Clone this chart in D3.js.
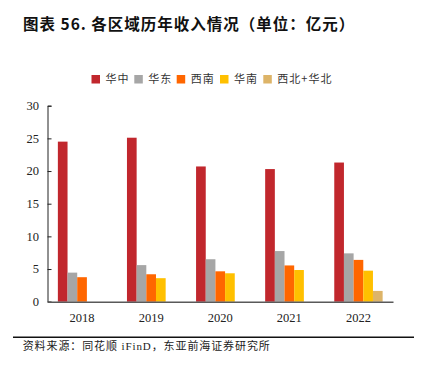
<!DOCTYPE html>
<html><head><meta charset="utf-8">
<script src="https://cdn.jsdelivr.net/npm/d3@7/dist/d3.min.js"></script>
<style>body{margin:0;background:#fff}svg{display:block}</style>
</head><body>
<script>
const years = ["2018","2019","2020","2021","2022"];
const seriesNames = ["华中","华东","西南","华南","西北+华北"];
const huazhong = [24.5, 25.1, 20.7, 20.3, 21.3];
const huadong  = [4.45, 5.6, 6.5, 7.75, 7.4];
const xinan    = [3.75, 4.2, 4.65, 5.55, 6.4];
const huanan   = [null, 3.6, 4.35, 4.85, 4.75];
const xibei    = [null, null, null, null, 1.65];
const yTicks = [0,5,10,15,20,25,30];
const colors = ["#C1272D","#A6A6A6","#FF6600","#FFC000","#DDB468"];
const titleText = "图表 56. 各区域历年收入情况（单位：亿元）";
const sourceText = "资料来源：同花顺 iFinD，东亚前海证券研究所";

const allSeries = [huazhong, huadong, xinan, huanan, xibei];
const W = 422, H = 372;
const svg = d3.select("body").append("svg").attr("width", W).attr("height", H);

svg.append("text").attr("x", 23).attr("y", 30)
  .attr("font-family", "'Noto Sans CJK SC', sans-serif").attr("font-weight", "bold")
  .attr("font-size", 15.5).attr("letter-spacing", 1).attr("fill", "#111").text(titleText);

const x0 = d3.scaleBand().domain(years).range([47.5, 393]).paddingInner(0.3).paddingOuter(0.15);
const x1 = d3.scaleBand().domain(seriesNames).range([0, x0.bandwidth()]);
const y = d3.scaleLinear().domain([0, 30]).range([301.7, 105.7]);

// bars
const g = svg.append("g");
allSeries.forEach((vals, si) => {
  g.selectAll(null).data(years.map((yr, i) => ({yr, v: vals[i]})).filter(d => d.v != null))
    .enter().append("rect")
    .attr("x", d => x0(d.yr) + x1(seriesNames[si]))
    .attr("width", x1.bandwidth())
    .attr("y", d => y(d.v))
    .attr("height", d => y(0) - y(d.v))
    .attr("fill", colors[si]);
});

// y axis
const ya = svg.append("g").attr("transform", "translate(47.5,0)")
  .call(d3.axisRight(y).tickValues(yTicks).tickSize(4).tickFormat(""));
ya.select(".domain").attr("stroke", "#222");
ya.selectAll(".tick line").attr("stroke", "#222");
svg.append("g").selectAll("text").data(yTicks).enter().append("text")
  .attr("x", 39).attr("y", d => y(d)).attr("dy", "0.35em").attr("text-anchor", "end")
  .attr("font-family", "'Liberation Serif', serif").attr("font-size", 12.5).attr("fill", "#222")
  .text(d => d);

// x axis
const xa = svg.append("g").attr("transform", `translate(0,${y(0)})`)
  .call(d3.axisBottom(x0).tickSize(0).tickPadding(11));
xa.select(".domain").attr("stroke", "#595959").attr("stroke-width", 1.5);
xa.selectAll("text").attr("font-family", "'Liberation Serif', serif").attr("font-size", 12.5).attr("fill", "#222");

// legend
const legX = [91.5, 134.3, 176.7, 220, 263.3];
const leg = svg.append("g");
seriesNames.forEach((n, i) => {
  leg.append("rect").attr("x", legX[i]).attr("y", 75).attr("width", 8.5).attr("height", 8.5).attr("fill", colors[i]);
  leg.append("text").attr("x", legX[i] + 14).attr("y", 79.3).attr("dy", "0.36em")
    .attr("font-family", "'Noto Sans CJK SC', sans-serif").attr("font-size", 11)
    .attr("letter-spacing", 1).attr("fill", "#333").text(n);
});

// footer
svg.append("line").attr("x1", 13).attr("x2", 414).attr("y1", 337.3).attr("y2", 337.3)
  .attr("stroke", "#111").attr("stroke-width", 1.5);
svg.append("text").attr("x", 22.7).attr("y", 345.7).attr("dy", "0.36em")
  .attr("font-family", "'Liberation Serif', 'Noto Sans CJK SC', serif").attr("font-size", 11)
  .attr("letter-spacing", 0.9).attr("fill", "#222").text(sourceText);
</script>
</body></html>
